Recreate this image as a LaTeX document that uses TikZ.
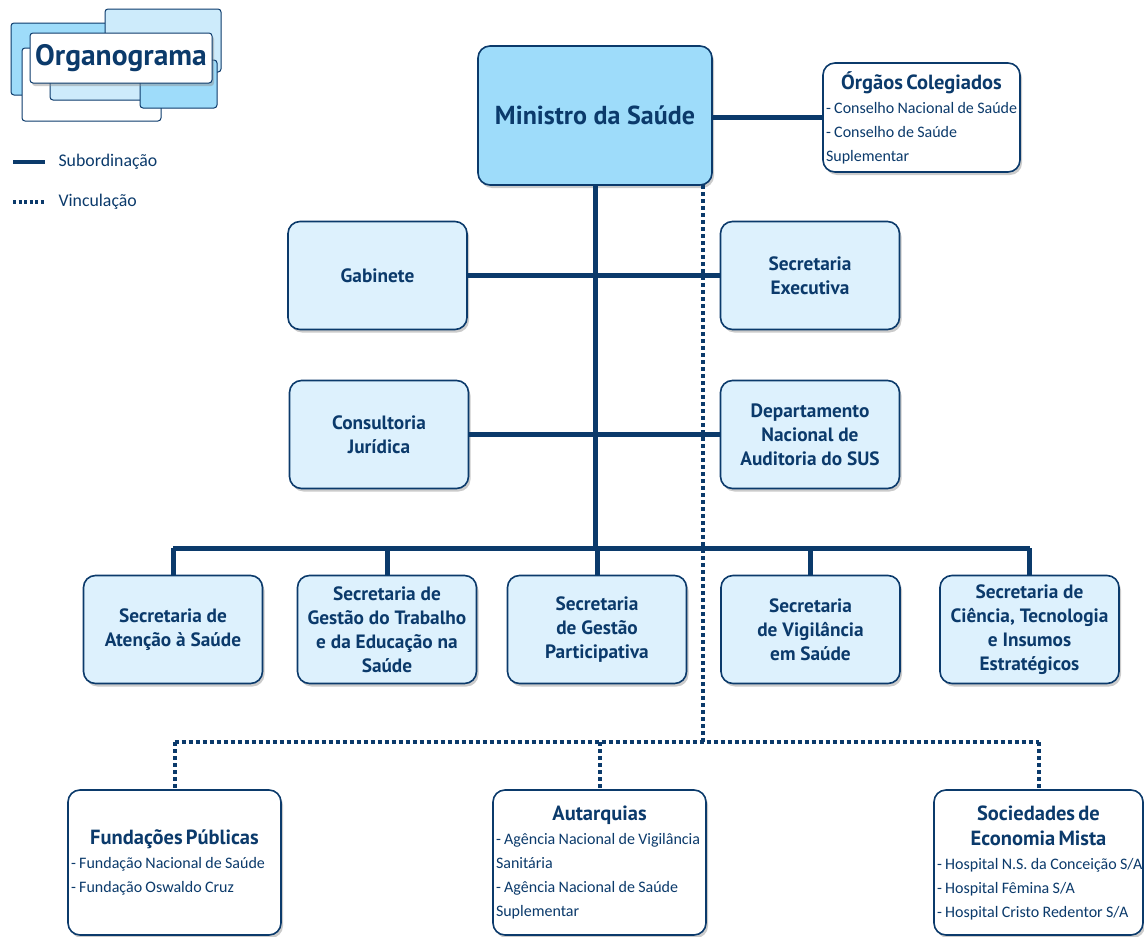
\documentclass[tikz,border=0pt]{standalone}
\usepackage{fontspec}
\setmainfont{PT Sans}
\newfontfamily\itmfamily{Carlito}
\usepackage{tikz}
\usetikzlibrary{positioning, shadows}

\definecolor{navy}{HTML}{0B3A6B}
\definecolor{boxfill}{HTML}{DDF1FD}
\definecolor{minfill}{HTML}{9EDCFA}
\definecolor{logolt}{HTML}{CDEBFB}

\newcommand{\ttlfont}{\bfseries\fontsize{20.5}{25}\selectfont}
\newcommand{\itmfont}{\itmfamily\fontsize{16}{24}\selectfont}

\begin{document}
\begin{tikzpicture}[x=1pt, y=-1pt,
  shade box/.style={drop shadow={shadow xshift=2pt, shadow yshift=-3pt, fill=black!45, opacity=0.45}},
  unit/.style={rectangle, draw=navy, line width=1.6pt, rounded corners=12pt, fill=boxfill, text=navy, align=center, font=\bfseries\fontsize{19.3}{24}\selectfont, minimum width=179pt, minimum height=108pt, inner sep=2pt, shade box},
  listbox/.style={rectangle, draw=navy, line width=1.6pt, rounded corners=12pt, fill=white, text=navy, align=left, inner xsep=3pt, minimum height=145pt, shade box},
  logobox/.style={draw=navy, line width=1pt, rounded corners=3pt},
  sub/.style={navy, line width=5pt},
  vinc/.style={navy, line width=4pt, dash pattern=on 4pt off 3pt},
  legend/.style={text=navy, font=\itmfamily\fontsize{17.8}{20}\selectfont, anchor=west}
]
\useasboundingbox (0,0) rectangle (1144,937);

% Logo
\draw[logobox, fill=minfill] (11,23) rectangle (120,95);
\draw[logobox, fill=logolt] (105,9) rectangle (221,72);
\draw[logobox, fill=white] (22,48) rectangle (161,121);
\draw[logobox, fill=logolt] (50,45) rectangle (150,100);
\draw[logobox, fill=minfill] (140,60) rectangle (217,108);
\node[logobox, fill=white, shade box, minimum width=182pt, minimum height=50pt, text=navy, font=\bfseries\fontsize{29.5}{31}\selectfont] (logo) at (121,58) {Organograma};

% Legend
\draw[sub, line width=3.5pt] (13,162) -- (45,162);
\node[legend] (lsub) at (55,162) {Subordinação};
\draw[vinc, line width=3.5pt, dash pattern=on 3pt off 2.5pt] (13,202) -- (45,202);
\node[legend] (lvinc) at (55,202) {Vinculação};

% Nodes
\node[unit, fill=minfill, minimum width=234pt, minimum height=139pt, font=\bfseries\fontsize{26}{30}\selectfont] (min) at (595,115.5) {Ministro da Saúde};
\node[listbox, text width=191pt, minimum height=109pt] (org) at (921.5,117.5)
  {{\centering\ttlfont Órgãos Colegiados\par}\itmfont \mbox{- Conselho Nacional de Saúde}\\- Conselho de Saúde\\Suplementar\par};

\node[unit] (gab) at (377.5,275.5) {Gabinete};
\node[unit] (exe) at (810,275.5) {Secretaria\\Executiva};
\node[unit] (cons) at (379,434.5) {Consultoria\\Jurídica};
\node[unit] (dep) at (810,434.5) {Departamento\\Nacional de\\Auditoria do SUS};

\node[unit] (sas) at (173,629.5) {Secretaria de\\Atenção à Saúde};
\node[unit] (sgt) at (387,629.5) {Secretaria de\\Gestão do Trabalho\\e da Educação na\\Saúde};
\node[unit] (sgp) at (597,629.5) {Secretaria\\de Gestão\\Participativa};
\node[unit] (svs) at (810.5,629.5) {Secretaria\\de Vigilância\\em Saúde};
\node[unit] (sct) at (1029.5,629.5) {Secretaria de\\Ciência, Tecnologia\\e Insumos\\Estratégicos};

\node[listbox, text width=207pt] (fun) at (174.5,862.5)
  {{\centering\ttlfont Fundações Públicas\par}\itmfont \mbox{- Fundação Nacional de Saúde}\\\mbox{- Fundação Oswaldo Cruz}\par};
\node[listbox, text width=207pt] (aut) at (599.5,862.5)
  {{\centering\ttlfont Autarquias\par}\itmfont \mbox{- Agência Nacional de Vigilância}\\Sanitária\\\mbox{- Agência Nacional de Saúde}\\Suplementar\par};
\node[listbox, text width=203pt] (soc) at (1038.5,862.5)
  {{\centering\ttlfont Sociedades de\\Economia Mista\par}\itmfont \mbox{- Hospital N.S. da Conceição S/A}\\\mbox{- Hospital Fêmina S/A}\\\mbox{- Hospital Cristo Redentor S/A}\par};

\coordinate (bus) at (595,548);
\coordinate (vtop) at (703,185);
\coordinate (vbus) at (703,742);

% Connections
\draw[sub] (min.east |- org.west) -- (org.west);
\draw[sub] (min.south) -- (bus);
\draw[sub] (gab.east) -- (exe.west);
\draw[sub] (cons.east) -- (dep.west);
\draw[sub] (sas.north |- bus) -- (sct.north |- bus);
\foreach \n in {sas,sgt,sgp,svs,sct}
  \draw[sub] (\n.north |- bus) -- (\n.north);

\draw[vinc] (vtop) -- (vbus);
\draw[vinc] (fun.north |- vbus) -- (soc.north |- vbus);
\foreach \n in {fun,aut,soc}
  \draw[vinc] (\n.north |- vbus) -- (\n.north);

\end{tikzpicture}
\end{document}
